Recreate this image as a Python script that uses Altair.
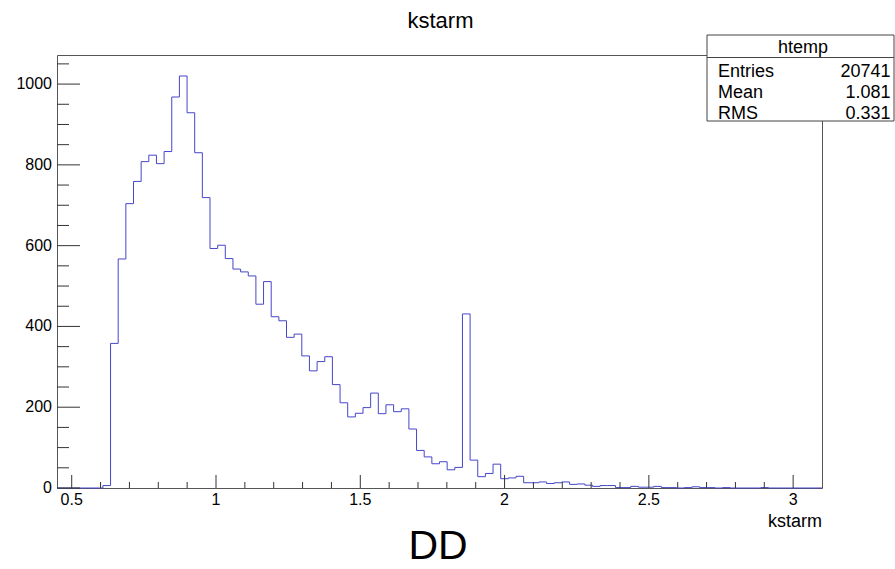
import altair as alt
import pandas as pd

# ---- data ----
x_min = 0.449
x_max = 3.1
counts = [
    0, 0, 0, 0, 0, 0, 6, 358, 567, 704,
    759, 808, 824, 803, 833, 968, 1020, 929, 830, 719,
    593, 601, 568, 542, 535, 525, 455, 511, 424, 414,
    373, 381, 327, 290, 313, 325, 256, 211, 176, 185,
    199, 235, 184, 206, 189, 196, 146, 93, 77, 60,
    65, 45, 51, 431, 69, 28, 36, 59, 23, 25,
    29, 13, 13, 15, 11, 13, 15, 9, 10, 7,
    4, 6, 6, 1, 1, 4, 2, 2, 4, 1,
    1, 0, 1, 3, 1, 1, 0, 1, 0, 0,
    0, 0, 1, 0, 0, 0, 0, 0, 0, 0,
]
y_max = 1072
x_major = [0.5, 1.0, 1.5, 2.0, 2.5, 3.0]
x_labels = ["0.5", "1", "1.5", "2", "2.5", "3"]
x_minor = [round(0.5 + 0.1 * i, 2) for i in range(1, 26) if i % 5 != 0]
y_major = [0, 200, 400, 600, 800, 1000]
y_labels = ["0", "200", "400", "600", "800", "1000"]
y_minor = [50, 100, 150, 250, 300, 350, 450, 500, 550, 650, 700, 750, 850, 900, 950, 1050]
stat_names = ["Entries", "Mean", "RMS"]
stat_values = ["20741", "1.081", "0.331"]
hist_name = "htemp"
title_text = "kstarm"
x_title = "kstarm"
caption = "DD"

n_bins = len(counts)
bw = (x_max - x_min) / n_bins
edges = [x_min + i * bw for i in range(n_bins + 1)]
step_df = pd.DataFrame({"x": edges, "y": counts + [counts[-1]]})

W, H = 765, 433
FONT = "Liberation Sans"

xscale = alt.Scale(domain=[x_min, x_max], nice=False, zero=False)
yscale = alt.Scale(domain=[0, y_max], nice=False, zero=True)

hist = alt.Chart(step_df).mark_line(
    interpolate="step-after", color="#4646c8", strokeWidth=1
).encode(
    x=alt.X("x:Q", scale=xscale, axis=None),
    y=alt.Y("y:Q", scale=yscale, axis=None),
)

def xticks(vals, length):
    return alt.Chart(pd.DataFrame({"x": vals})).mark_rule(color="#333", strokeWidth=1).encode(
        x=alt.X("x:Q", scale=xscale, axis=None),
        y=alt.value(H), y2=alt.value(H - length))

def yticks(vals, length):
    return alt.Chart(pd.DataFrame({"y": vals})).mark_rule(color="#333", strokeWidth=1).encode(
        y=alt.Y("y:Q", scale=yscale, axis=None),
        x=alt.value(0), x2=alt.value(length))

xlab = alt.Chart(pd.DataFrame({"x": x_major, "t": x_labels})).mark_text(
    align="center", baseline="top", font=FONT, fontSize=16, color="black"
).encode(x=alt.X("x:Q", scale=xscale, axis=None), y=alt.value(H + 4), text="t:N")

ylab = alt.Chart(pd.DataFrame({"y": y_major, "t": y_labels})).mark_text(
    align="right", baseline="middle", font=FONT, fontSize=16, color="black"
).encode(y=alt.Y("y:Q", scale=yscale, axis=None), x=alt.value(-5), text="t:N")

one = pd.DataFrame({"a": [0]})

def text(t, x, y, size, align="left", font=FONT):
    return alt.Chart(one).mark_text(
        text=t, align=align, baseline="alphabetic", font=font, fontSize=size, color="black"
    ).encode(x=alt.value(x), y=alt.value(y))

box = alt.Chart(one).mark_rect(fill="white", stroke="#444", strokeWidth=1).encode(
    x=alt.value(650), x2=alt.value(837), y=alt.value(-20), y2=alt.value(66))
sep = alt.Chart(one).mark_rule(color="#444", strokeWidth=1).encode(
    x=alt.value(650), x2=alt.value(837), y=alt.value(2.5))

layers = [hist, xticks(x_major, 13), xticks(x_minor, 6), yticks(y_major, 23), yticks(y_minor, 12),
          xlab, ylab, box, sep,
          text(title_text, W / 2 + 1, -27, 22, align="center"),
          text(hist_name, 746, -2, 18, align="center")]
rows_y = [21.7, 43.3, 64.3]
for name, val, yy in zip(stat_names, stat_values, rows_y):
    layers.append(text(name, 661, yy, 18, align="left"))
    layers.append(text(val, 833.5, yy, 18, align="right"))
layers.append(text(x_title, W, 472, 18, align="right"))
layers.append(text(caption, 381, 504, 41, align="center", font="Liberation Sans"))

chart = alt.layer(*layers).properties(
    width=W, height=H,
    padding={"left": 57, "top": 55, "right": 73, "bottom": 81},
    autosize=alt.AutoSizeParams(type="none"),
    background="white",
).configure_view(stroke="#555", strokeWidth=1)

chart.save("out.html", embed_options={"renderer": "svg", "actions": False})
